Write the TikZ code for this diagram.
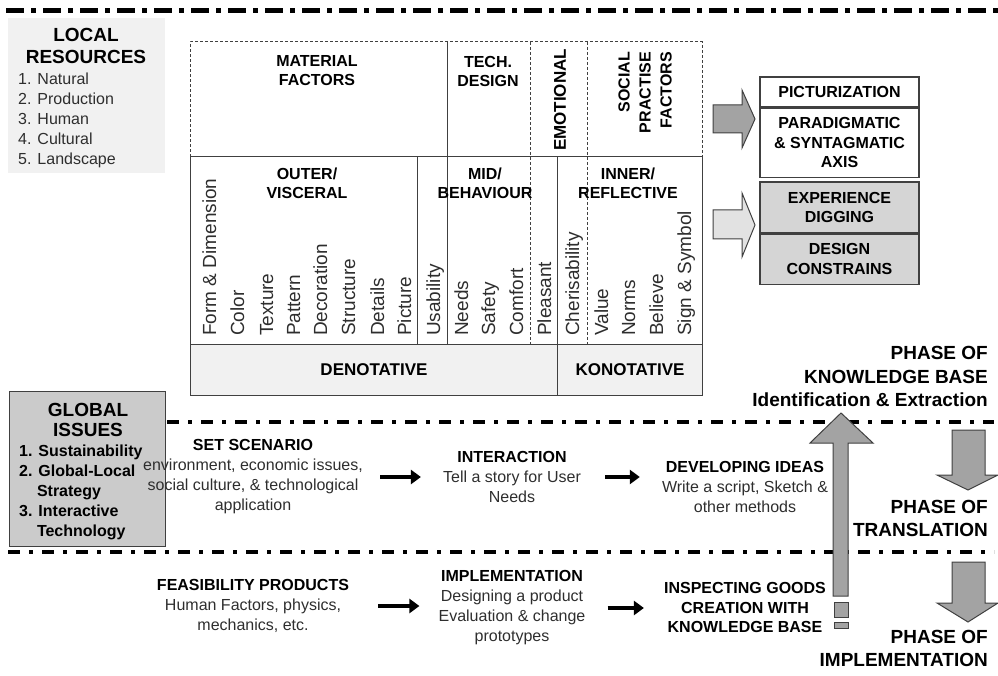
\documentclass[tikz,border=0pt]{standalone}
\usepackage{fontspec}
\setmainfont{Liberation Sans}
\usetikzlibrary{positioning,arrows.meta}
\definecolor{panelgray}{HTML}{CBCBCB}
\definecolor{palegray}{HTML}{F1F1F1}
\definecolor{arrowgray}{HTML}{A3A3A3}
\definecolor{lightarrow}{HTML}{E2E2E2}
\definecolor{linegray}{HTML}{404040}
\definecolor{inkgray}{HTML}{2E2E2E}

\begin{document}
\begin{tikzpicture}[
    x=1pt, y=-1pt,
    every node/.style={inner sep=0pt, text=inkgray},
    title/.style={font=\fontsize{19}{22}\selectfont\bfseries, align=center, text=black},
    hdr/.style={font=\fontsize{16}{19}\selectfont\bfseries, align=center, text=black},
    vlabel/.style={font=\fontsize{19}{22}\selectfont, rotate=90, anchor=base west},
    listtext/.style={font=\fontsize{16}{20}\selectfont, align=left},
    stage/.style={font=\fontsize{16}{20}\selectfont, align=center},
    phase/.style={font=\fontsize{19}{23.5}\selectfont\bfseries, align=right, anchor=east, text=black},
    tabline/.style={draw=linegray, line width=1pt},
    dashline/.style={tabline, dash pattern=on 3pt off 2pt},
    sidebox/.style={draw=linegray, line width=1.2pt, minimum width=159pt, font=\fontsize{16}{19.5}\selectfont\bfseries, align=center, text=black},
    fatarrow/.style={draw=linegray, line width=1pt, fill=arrowgray, line join=miter},
    rowarrow/.style={-{Triangle[length=10pt,width=14pt]}, line width=3.5pt, black},
    phaseline/.style={line width=3.5pt, dash pattern=on 12pt off 9pt on 4pt off 9pt},
]
\useasboundingbox (0,0) rectangle (998,676);

% ---- Phase divider lines ----
\draw[line width=5pt, dash pattern=on 18pt off 7pt on 5pt off 7pt] (6,11) -- (998,11);
\draw[phaseline] (167,422) -- (994,422);
\draw[phaseline] (8,552) -- (994,552);

% ---- Local resources ----
\node[fill=palegray, minimum width=157pt, minimum height=155pt, anchor=north west] (lbox) at (8,18) {};
\node[title] (ltitle) at (86,46) {LOCAL\\RESOURCES};
\node[listtext, anchor=west] (llist) at (18,120) {1. Natural\\2. Production\\3. Human\\4. Cultural\\5. Landscape};

% ---- Factor table: top zone ----
\draw[dashline] (190,157) -- (190,42) -- (702,42) -- (702,157);
\draw[tabline] (447,42) -- (447,344);
\draw[dashline] (530,42) -- (530,344);
\draw[dashline] (587,42) -- (587,344);
\node[hdr] (material) at (317,71) {MATERIAL\\FACTORS};
\node[hdr] (tech) at (488,71) {TECH.\\DESIGN};
\node[hdr, rotate=90, font=\fontsize{17}{20}\selectfont\bfseries] (emo) at (560,100) {EMOTIONAL};
\node[hdr, rotate=90, align=right, anchor=east, font=\fontsize{16}{21}\selectfont\bfseries] (social) at (645,52) {SOCIAL\\PRACTISE\\FACTORS};

% ---- Factor table: levels ----
\draw[tabline] (190,157) rectangle (417,344);
\draw[tabline] (417,157) rectangle (557,344);
\draw[tabline] (557,157) rectangle (702,344);
\node[hdr] (outer) at (307,183) {OUTER/\\VISCERAL};
\node[hdr] (mid) at (485,183) {MID/\\BEHAVIOUR};
\node[hdr] (inner) at (628,183) {INNER/\\REFLECTIVE};

\foreach \x/\lbl in {209/Form \& Dimension, 237/Color, 266/Texture, 293/Pattern,
    320/Decoration, 348/Structure, 377/Details, 404/Picture, 433/Usability,
    461/Needs, 488/Safety, 516/Comfort, 544/Pleasant, 572/Cherisability,
    601/Value, 628/Norms, 656/Believe, 684/Sign \& Symbol}
  \node[vlabel] (v\x) at (\x+7,336) {\lbl};

% ---- Factor table: meaning row ----
\node[tabline, fill=palegray, minimum width=367pt, minimum height=51pt, anchor=north west,
      font=\fontsize{17}{20}\selectfont\bfseries, text=black] (denot) at (190,344) {DENOTATIVE};
\node[tabline, fill=palegray, minimum width=145pt, minimum height=51pt, anchor=north west,
      font=\fontsize{17}{20}\selectfont\bfseries, text=black] (konot) at (557,344) {KONOTATIVE};

% ---- Outputs on the right ----
\draw[fatarrow] (713,105) -- (742,105) -- (742,90) -- (755,119) -- (742,148) -- (742,133) -- (713,133) -- cycle;
\draw[fatarrow, fill=lightarrow] (713,210) -- (742,210) -- (742,193) -- (755,225) -- (742,257) -- (742,239) -- (713,239) -- cycle;

\node[sidebox, minimum height=30pt] (pic) at (839.5,92) {PICTURIZATION};
\node[sidebox, minimum height=69pt, below=0pt of pic] (parad) {PARADIGMATIC\\\& SYNTAGMATIC\\AXIS};
\node[sidebox, fill=panelgray!80, minimum height=51pt] (exp) at (839.5,207.5) {EXPERIENCE\\DIGGING};
\node[sidebox, fill=panelgray!80, minimum height=50pt, below=0pt of exp] (constr) {DESIGN\\CONSTRAINS};

% ---- Global issues ----
\node[fill=panelgray, draw=linegray, line width=1.2pt, minimum width=156pt, minimum height=155pt, anchor=north west] (gbox) at (9,391) {};
\node[title, font=\fontsize{19}{20}\selectfont\bfseries] (gtitle) at (88,420) {GLOBAL\\ISSUES};
\node[listtext, font=\fontsize{16}{20}\selectfont\bfseries, text=black, anchor=west] (glist) at (19,492)
    {1. Sustainability\\2. Global-Local\\\hspace*{17.8pt}Strategy\\3. Interactive\\\hspace*{17.8pt}Technology};

% ---- Translation row ----
\node[stage] (scen) at (253,477) {{\bfseries\color{black}SET SCENARIO}\\environment, economic issues,\\social culture, \& technological\\application};
\node[stage] (inter) at (512,477) {{\bfseries\color{black}INTERACTION}\\Tell a story for User\\Needs};
\node[stage] (devel) at (745,487) {{\bfseries\color{black}DEVELOPING IDEAS}\\Write a script, Sketch \&\\other methods};
\draw[rowarrow, shorten <=17pt, shorten >=22pt] (scen.east) -- (inter.west);
\draw[rowarrow, shorten <=24pt, shorten >=22pt] (inter.east) -- (inter.east -| devel.west);

% ---- Implementation row ----
\node[stage] (feas) at (253,606) {{\bfseries\color{black}FEASIBILITY PRODUCTS}\\Human Factors, physics,\\mechanics, etc.};
\node[stage] (impl) at (512,608) {{\bfseries\color{black}IMPLEMENTATION}\\Designing a product\\Evaluation \& change\\prototypes};
\node[stage, font=\fontsize{16}{19.5}\selectfont\bfseries, text=black] (insp) at (745,607.5) {INSPECTING GOODS\\CREATION WITH\\KNOWLEDGE BASE};
\draw[rowarrow, shorten <=29pt, shorten >=19pt] (feas.east) -- (feas.east -| impl.west);
\draw[rowarrow, shorten <=22pt, shorten >=20pt] (impl.east) -- (impl.east -| insp.west);

% ---- Phase arrows ----
\draw[fatarrow] (833,596) -- (833,443) -- (810,443) -- (841,413) -- (873,443) -- (848,443) -- (848,596) -- cycle;
\draw[fatarrow] (834,602) rectangle (848,617);
\draw[fatarrow] (834,622) rectangle (848,628);
\draw[fatarrow] (952,430) -- (985,430) -- (985,475) -- (998,475) -- (968,490) -- (937,475) -- (952,475) -- cycle;
\draw[fatarrow] (952,562) -- (985,562) -- (985,603) -- (998,603) -- (968,622) -- (937,603) -- (952,603) -- cycle;

\node[phase] (ph1) at (988,376.5) {PHASE OF\\KNOWLEDGE BASE\\Identification \& Extraction};
\node[phase] (ph2) at (988,518.5) {PHASE OF\\TRANSLATION};
\node[phase] (ph3) at (988,648.5) {PHASE OF\\IMPLEMENTATION};

\end{tikzpicture}
\end{document}
